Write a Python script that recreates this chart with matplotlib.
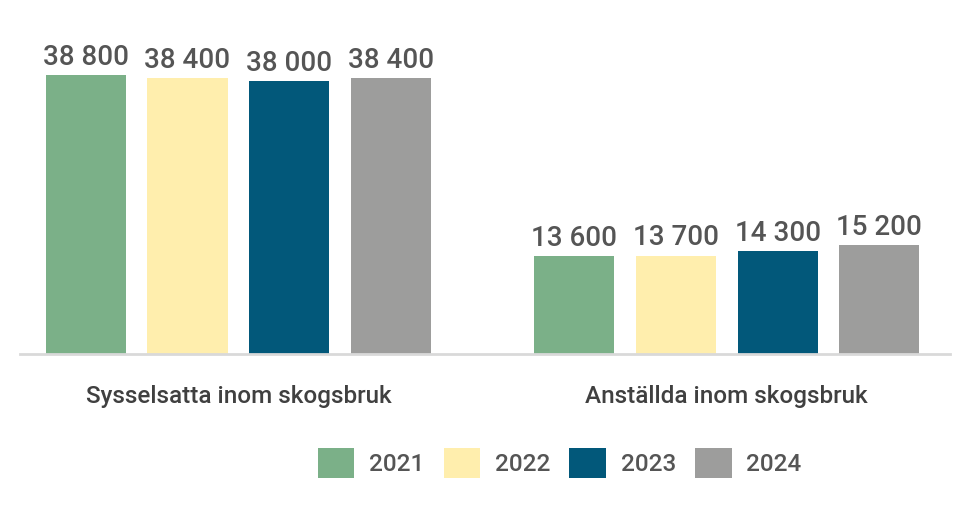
import numpy as np
import matplotlib
matplotlib.use("Agg")
import matplotlib.pyplot as plt

plt.rcParams['font.family'] = ['Roboto', 'DejaVu Sans']

categories = ["Sysselsatta inom skogsbruk", "Anställda inom skogsbruk"]
years = ["2021", "2022", "2023", "2024"]
values = {
    "2021": [38800, 13600],
    "2022": [38400, 13700],
    "2023": [38000, 14300],
    "2024": [38400, 15200],
}
colors = ["#7BB088", "#FFEEAD", "#02587A", "#9D9D9C"]
text_col = "#555555"

fig = plt.figure(figsize=(9.7, 5.2), dpi=100)
ax = fig.add_axes([20/970, 166/520, 930/970, 334/520])

x = np.arange(len(categories))
pitch = 0.208
width = 0.164
for i, yr in enumerate(years):
    pos = x + (i - 1.5) * pitch
    bars = ax.bar(pos, values[yr], width=width, color=colors[i], label=yr)
    for b, v in zip(bars, values[yr]):
        ax.annotate(f"{v:,}".replace(",", " "),
                    (b.get_x() + b.get_width()/2, v),
                    xytext=(0, 3), textcoords="offset points",
                    ha="center", va="bottom", fontsize=20,
                    fontweight="medium", color=text_col)

ax.set_xlim(-0.447, 1.457)
ax.set_ylim(0, 46500)
for s in ["top", "right", "left"]:
    ax.spines[s].set_visible(False)
ax.spines["bottom"].set_color("#D9D9D9")
ax.spines["bottom"].set_linewidth(2)
ax.set_yticks([])
ax.set_xticks(x)
ax.set_xticklabels(categories, fontsize=17.5, color="#404040", fontweight="medium")
ax.tick_params(axis="x", length=0, pad=22)

fig.legend(loc="center", bbox_to_anchor=(0.577, 0.11), ncol=4, frameon=False,
           fontsize=17.5, handlelength=1.5, handleheight=1.5,
           handletextpad=0.6, columnspacing=0.8, labelcolor=text_col,
           prop={"weight": "medium", "size": 17.5})

fig.savefig("out.png", dpi=100)
